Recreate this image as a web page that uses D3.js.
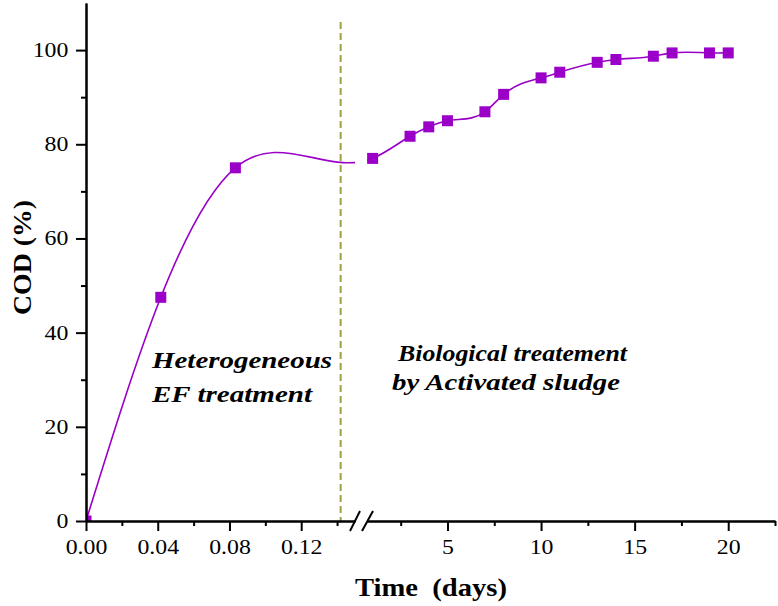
<!DOCTYPE html>
<html><head><meta charset="utf-8">
<script src="https://cdn.jsdelivr.net/npm/d3@7"></script>
<style>
body{margin:0;background:#fff}
text{font-family:"Liberation Serif","Times New Roman",serif}
</style>
</head><body><svg id="c" width="778" height="606"></svg>
<script>
// ---- data ----
const efTime = [0, 0.0417, 0.0833];           // days (heterogeneous EF stage)
const efCOD = [0, 47.5, 75.0];
const bioDays = [1, 3, 4, 5, 7, 8, 10, 11, 13, 14, 16, 17, 19, 20];
const bioCOD = [77.0, 81.7, 83.7, 85.0, 86.9, 90.6, 94.1, 95.3, 97.4, 98.0, 98.7, 99.4, 99.4, 99.4];
const yTicks = [0, 20, 40, 60, 80, 100];
const yMinor = [10, 30, 50, 70, 90];
const efTicks = [0, 0.04, 0.08, 0.12];
const efMinor = [0.02, 0.06, 0.10, 0.14];
const bioTicks = [5, 10, 15, 20];
const bioMinor = [2.5, 7.5, 12.5, 17.5, 22.5];
const dividerTime = 0.142;
const annoLeft = ["Heterogeneous", "EF treatment"];
const annoRight = ["Biological treatement", "by Activated sludge"];

const purple = "#9B00C8";
const svg = d3.select("#c");
const SX = 1.19; // horizontal text stretch of the original figure

const y = d3.scaleLinear().domain([0, 110]).range([521, 3]);
const x1 = d3.scaleLinear().domain([0, 0.15]).range([86, 355]);
const x2 = d3.scaleLinear().domain([0.7, 22.5]).range([367, 775]);

const pts = efTime.map((t, i) => ({px: x1(t), v: efCOD[i]}))
  .concat(bioDays.map((d, i) => ({px: x2(d), v: bioCOD[i]})));

// natural cubic spline y(x) as a custom d3 curve
function splineX(context) {
  let P;
  return {
    areaStart() {}, areaEnd() {},
    lineStart() { P = []; },
    point(x, y) { P.push([+x, +y]); },
    lineEnd() {
      const n = P.length - 1;
      if (n < 1) return;
      const h = [], M = new Array(n + 1).fill(0);
      for (let i = 0; i < n; i++) h.push(P[i + 1][0] - P[i][0]);
      // tridiagonal solve for interior second derivatives
      const a = [], b = [], c = [], r = [];
      for (let i = 1; i < n; i++) {
        a.push(h[i - 1]); b.push(2 * (h[i - 1] + h[i])); c.push(h[i]);
        r.push(6 * ((P[i + 1][1] - P[i][1]) / h[i] - (P[i][1] - P[i - 1][1]) / h[i - 1]));
      }
      const m = r.length;
      for (let i = 1; i < m; i++) {
        const w = a[i] / b[i - 1];
        b[i] -= w * c[i - 1]; r[i] -= w * r[i - 1];
      }
      const sol = new Array(m);
      for (let i = m - 1; i >= 0; i--) sol[i] = (r[i] - (i < m - 1 ? c[i] * sol[i + 1] : 0)) / b[i];
      for (let i = 1; i < n; i++) M[i] = sol[i - 1];
      const d = [];
      for (let i = 0; i < n; i++) d.push((P[i + 1][1] - P[i][1]) / h[i] - h[i] * (2 * M[i] + M[i + 1]) / 6);
      d.push((P[n][1] - P[n - 1][1]) / h[n - 1] + h[n - 1] * (M[n - 1] + 2 * M[n]) / 6);
      context.moveTo(P[0][0], P[0][1]);
      for (let i = 0; i < n; i++) {
        const k = h[i] / 3;
        context.bezierCurveTo(P[i][0] + k, P[i][1] + d[i] * k,
                              P[i + 1][0] - k, P[i + 1][1] - d[i + 1] * k,
                              P[i + 1][0], P[i + 1][1]);
      }
    }
  };
}

// clip paths
const defs = svg.append("defs");
const cl = defs.append("clipPath").attr("id", "lineclip");
cl.append("rect").attr("x", 86).attr("y", 0).attr("width", 355 - 86).attr("height", 521);
cl.append("rect").attr("x", 367).attr("y", 0).attr("width", 778 - 367).attr("height", 521);
defs.append("clipPath").attr("id", "plotclip")
  .append("rect").attr("x", 86).attr("y", 0).attr("width", 700).attr("height", 521);

// divider
svg.append("line")
  .attr("x1", x1(dividerTime)).attr("x2", x1(dividerTime))
  .attr("y1", 22).attr("y2", y(0))
  .attr("stroke", "#A0A040").attr("stroke-width", 2).attr("stroke-dasharray", "7,4");

// curve
const line = d3.line().x(d => d.px).y(d => y(d.v)).curve(splineX);
svg.append("path").datum(pts)
  .attr("clip-path", "url(#lineclip)")
  .attr("d", line).attr("fill", "none").attr("stroke", purple).attr("stroke-width", 1.6);

// markers
const s = 11;
svg.append("g").attr("clip-path", "url(#plotclip)")
  .selectAll("rect").data(pts).join("rect")
  .attr("x", d => d.px - s / 2).attr("y", d => y(d.v) - s / 2)
  .attr("width", s).attr("height", s).attr("fill", purple);

// axes
function styleAxis(g) {
  g.selectAll("path.domain").attr("stroke", "#000").attr("stroke-width", 2);
  g.selectAll(".tick line").attr("stroke", "#000").attr("stroke-width", 2);
  g.selectAll("text").attr("font-size", 20).attr("fill", "#000")
    .attr("transform", `scale(${SX},1)`)
    .style("font-family", '"Liberation Serif","Times New Roman",serif');
}
const gx1 = svg.append("g").attr("transform", `translate(0,${y(0)})`)
  .call(d3.axisBottom(x1).tickValues(efTicks).tickFormat(d3.format(".2f")).tickSize(10).tickSizeOuter(0).tickPadding(9));
styleAxis(gx1);
const gx1m = svg.append("g").attr("transform", `translate(0,${y(0)})`)
  .call(d3.axisBottom(x1).tickValues(efMinor).tickFormat("").tickSize(5).tickSizeOuter(0));
styleAxis(gx1m);
const gx2 = svg.append("g").attr("transform", `translate(0,${y(0)})`)
  .call(d3.axisBottom(x2).tickValues(bioTicks).tickSize(10).tickSizeOuter(0).tickPadding(9));
styleAxis(gx2);
const gx2m = svg.append("g").attr("transform", `translate(0,${y(0)})`)
  .call(d3.axisBottom(x2).tickValues(bioMinor).tickFormat("").tickSize(5).tickSizeOuter(0));
styleAxis(gx2m);
const gy = svg.append("g").attr("transform", `translate(${x1(0)},0)`)
  .call(d3.axisLeft(y).tickValues(yTicks).tickSize(10).tickSizeOuter(0).tickPadding(4.8));
styleAxis(gy);
const gym = svg.append("g").attr("transform", `translate(${x1(0)},0)`)
  .call(d3.axisLeft(y).tickValues(yMinor).tickFormat("").tickSize(5).tickSizeOuter(0));
styleAxis(gym);

// break marks
const y0 = y(0);
[[350, 360], [362, 373]].forEach(([a, b]) => {
  svg.append("line").attr("x1", a).attr("y1", y0 + 10).attr("x2", b).attr("y2", y0 - 10)
    .attr("stroke", "#000").attr("stroke-width", 2);
});

// titles
svg.append("text").attr("x", 355).attr("y", 596)
  .attr("font-size", 25).attr("font-weight", "bold").style("white-space", "pre")
  .attr("textLength", 152).attr("lengthAdjust", "spacingAndGlyphs")
  .text("Time  (days)");
svg.append("text").attr("transform", "translate(31,315) rotate(-90)")
  .attr("font-size", 25).attr("font-weight", "bold")
  .attr("textLength", 115).attr("lengthAdjust", "spacingAndGlyphs")
  .text("COD (%)");

// annotations
function anno(txt, x, yy, len) {
  svg.append("text").attr("x", x).attr("y", yy).attr("font-size", 24)
    .attr("font-weight", "bold").attr("font-style", "italic")
    .attr("textLength", len).attr("lengthAdjust", "spacingAndGlyphs").text(txt);
}
anno(annoLeft[0], 152, 368, 180);
anno(annoLeft[1], 152, 402, 160);
anno(annoRight[0], 398, 361, 229);
anno(annoRight[1], 392, 390, 228);
</script>
</body></html>
